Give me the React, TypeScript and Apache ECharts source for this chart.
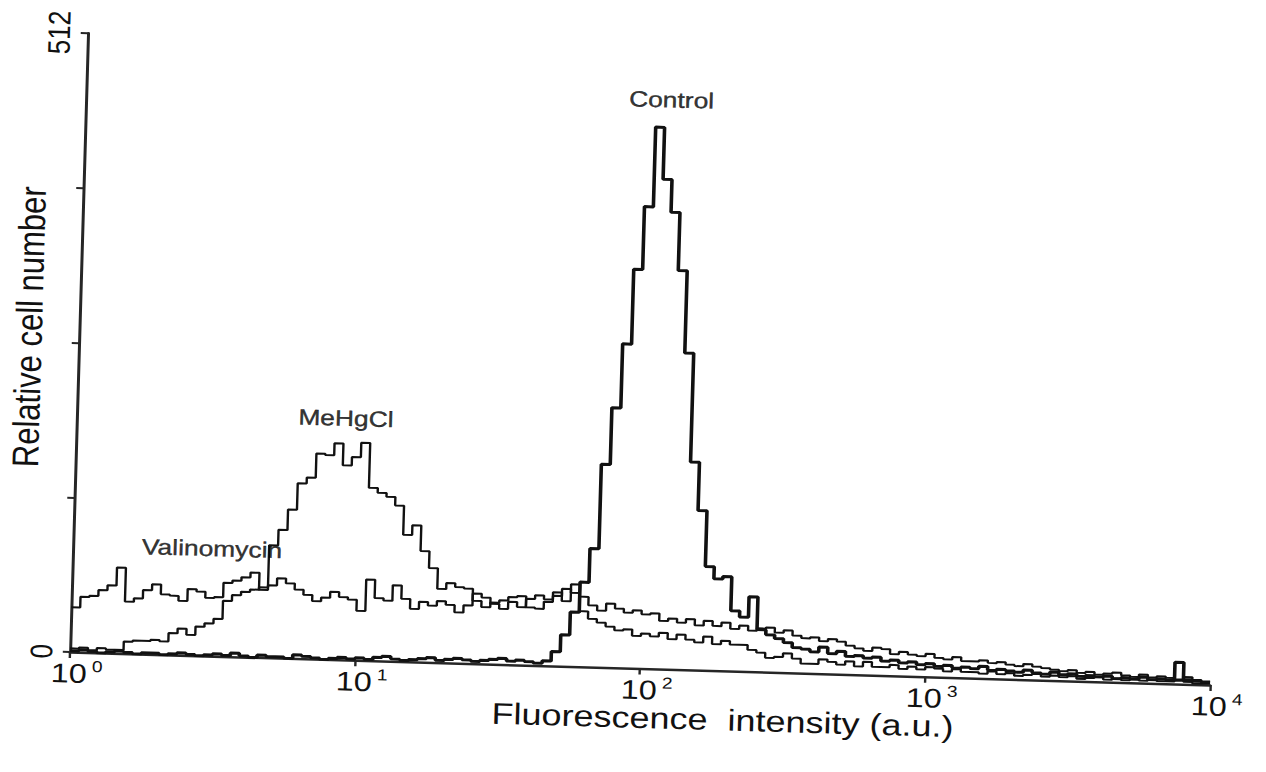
import React, { useEffect, useRef } from 'react';
import * as echarts from 'echarts';

// x axis: 128 log channels spanning four decades (10^0 .. 10^4)
const decadeLabels = ['0', '1', '2', '3', '4'];
const channelCount = 128;

const control = [
  1, 2, 1, 0, 1, 2, 1, 0, 1, 1, 0, 1,
  2, 1, 0, 1, 2, 1, 3, 1, 0, 2, 1, 1,
  0, 3, 2, 1, 0, 1, 2, 1, 2, 1, 3, 4,
  2, 1, 2, 3, 4, 2, 3, 4, 3, 2, 3, 4,
  5, 3, 4, 3,
  2, 4, 12, 26, 45, 70, 98, 168, 215, 268, 330, 382, 448, 405, 378, 330, 262, 172, 132, 86, 76, 78, 50, 45, 62, 35, 31, 28, 25,
  21, 20, 18, 22, 17, 19, 15, 16, 14, 15,
  12, 13, 11, 12, 10, 11, 9, 10, 8, 9,
  8, 10, 7, 8, 7, 6, 8, 6, 5, 7,
  5, 6, 4, 5, 4, 5, 3, 4, 3, 5,
  3, 4, 3, 18, 4, 3, 2,
];

const meHgCl = [
  3, 4, 2, 4, 3, 3, 10, 11, 11, 12,
  11, 18, 22, 17, 24, 27, 31, 46, 51, 54,
  56, 58, 93, 106, 123, 145, 150, 170, 169, 179,
  161, 168, 180, 143, 139, 136, 129, 105, 113, 92,
  78, 61, 66, 63, 62, 52, 47, 51, 53, 56,
  57, 48, 47, 53, 58, 64, 61, 46, 40, 37,
  34, 31, 32, 27, 29, 27, 30, 25, 29, 25,
  23, 28, 22, 25, 22, 22, 18, 16, 12, 13,
  16, 12, 8, 8, 12, 10, 8, 11, 7, 11,
  7, 7, 9, 6, 8, 6, 8, 7, 5, 7,
  5, 5, 4, 6, 4, 5, 3, 4, 5, 3,
  4, 3, 4, 2, 3, 4, 2, 3, 2, 3,
  2, 3, 2, 2, 3, 2, 1, 1,
];

const valinomycin = [
  37, 46, 47, 52, 56, 71, 43, 46, 53, 58,
  50, 49, 45, 55, 53, 48, 49, 61, 63, 66,
  70, 56, 60, 66, 62, 57, 53, 48, 51, 56,
  52, 50, 41, 67, 52, 50, 63, 52, 44, 50,
  47, 51, 48, 42, 48, 58, 55, 50, 46, 52,
  48, 55, 58, 55, 61, 54, 68, 58, 51, 47,
  53, 49, 46, 48, 45, 46, 40, 42, 39, 42,
  37, 41, 37, 40, 35, 38, 34, 36, 37, 33,
  35, 31, 29, 30, 27, 29, 27, 24, 22, 20,
  23, 22, 18, 20, 18, 17, 19, 16, 15, 17,
  14, 14, 15, 13, 14, 12, 11, 13, 11, 10,
  9, 8, 9, 7, 8, 6, 7, 8, 6, 5,
  7, 5, 6, 5, 4, 6, 4, 3,
];

const annotationNames = ['Control', 'MeHgCl', 'Valinomycin'];
const annotationChannels = [65.7, 30.2, 15.6];
const annotationCounts = [471, 200, 89];

const INK = '#111111';
const FONT = '"Liberation Sans", Arial, "DejaVu Sans", sans-serif';

function toSteps(values: number[]) {
  const pts: number[][] = values.map((v, i) => [i, v]);
  pts.push([values.length, values[values.length - 1]]);
  return pts;
}

export default function App() {
  const ref = useRef<HTMLDivElement>(null);

  useEffect(() => {
    if (!ref.current) return;
    const chart = echarts.init(ref.current, null, { renderer: 'svg' });

    const lineSeries = (name: string, values: number[], width: number) => ({
      name,
      type: 'line',
      step: 'end',
      data: toSteps(values),
      showSymbol: false,
      symbol: 'none',
      lineStyle: { color: INK, width },
      z: 3,
    });

    chart.setOption({
      animation: false,
      backgroundColor: '#ffffff',
      textStyle: { fontFamily: FONT },
      grid: {
        left: 62,
        top: 25,
        right: 39.6,
        bottom: 112,
        containLabel: false,
        outerBoundsMode: 'none',
      },
      xAxis: {
        type: 'value',
        min: 0,
        max: channelCount,
        interval: 32,
        splitLine: { show: false },
        axisLine: { show: true, onZero: false, lineStyle: { color: '#262626', width: 2.5 } },
        axisTick: { show: true, inside: false, length: 6, lineStyle: { color: '#262626', width: 2 } },
        axisLabel: {
          show: true,
          margin: 6,
          padding: [0, 0, 0, 12],
          formatter: (v: number) => `{b|10}{s|${decadeLabels[Math.round(v / 32)]}}`,
          rich: {
            b: { fontSize: 27, lineHeight: 30, color: INK, fontFamily: FONT },
            s: { fontSize: 16, lineHeight: 16, color: INK, fontFamily: FONT, verticalAlign: 'top', padding: [0, 0, 0, 4] },
          },
        },
        name: 'Fluorescence  intensity (a.u.)',
        nameLocation: 'middle',
        nameGap: 34,
        nameMoveOverlap: false,
        nameTextStyle: { fontSize: 30, color: INK, fontFamily: FONT, padding: [0, 0, 0, 140] },
      },
      yAxis: {
        type: 'value',
        min: 0,
        max: 512,
        interval: 128,
        splitLine: { show: false },
        axisLine: { show: true, lineStyle: { color: '#262626', width: 2.5 } },
        axisTick: { show: true, inside: false, length: 6, lineStyle: { color: '#262626', width: 2 } },
        axisLabel: {
          show: true,
          rotate: 90,
          margin: 11,
          fontSize: 26,
          color: INK,
          fontFamily: FONT,
          formatter: (v: number) => (v === 0 || v === 512 ? String(v) : ''),
        },
        name: 'Relative cell number',
        nameLocation: 'middle',
        nameGap: 26,
        nameRotate: 90,
        nameMoveOverlap: false,
        nameTextStyle: { fontSize: 31, lineHeight: 32, color: INK, fontFamily: FONT, padding: [0, 0, 0, 29] },
      },
      series: [
        lineSeries('Valinomycin', valinomycin, 2),
        lineSeries('MeHgCl', meHgCl, 2),
        lineSeries('Control', control, 3),
        {
          name: 'labels',
          type: 'scatter',
          symbolSize: 1,
          itemStyle: { color: 'rgba(0,0,0,0)' },
          data: annotationNames.map((n, i) => ({ name: n, value: [annotationChannels[i], annotationCounts[i]] })),
          label: {
            show: true,
            position: 'inside',
            formatter: (p: any) => p.name,
            fontSize: 22,
            color: '#000000',
            textBorderColor: '#000000',
            textBorderWidth: 0.4,
            fontFamily: FONT,
          },
          z: 5,
          silent: true,
        },
      ],
    });

    return () => chart.dispose();
  }, []);

  return (
    <div style={{ width: 1250, height: 756, overflow: 'hidden', position: 'relative', background: '#fff' }}>
      <div
        ref={ref}
        style={{
          width: 1052,
          height: 756,
          transform: 'rotate(1.66deg) scaleX(1.2)',
          transformOrigin: '62px 644px',
        }}
      />
    </div>
  );
}
